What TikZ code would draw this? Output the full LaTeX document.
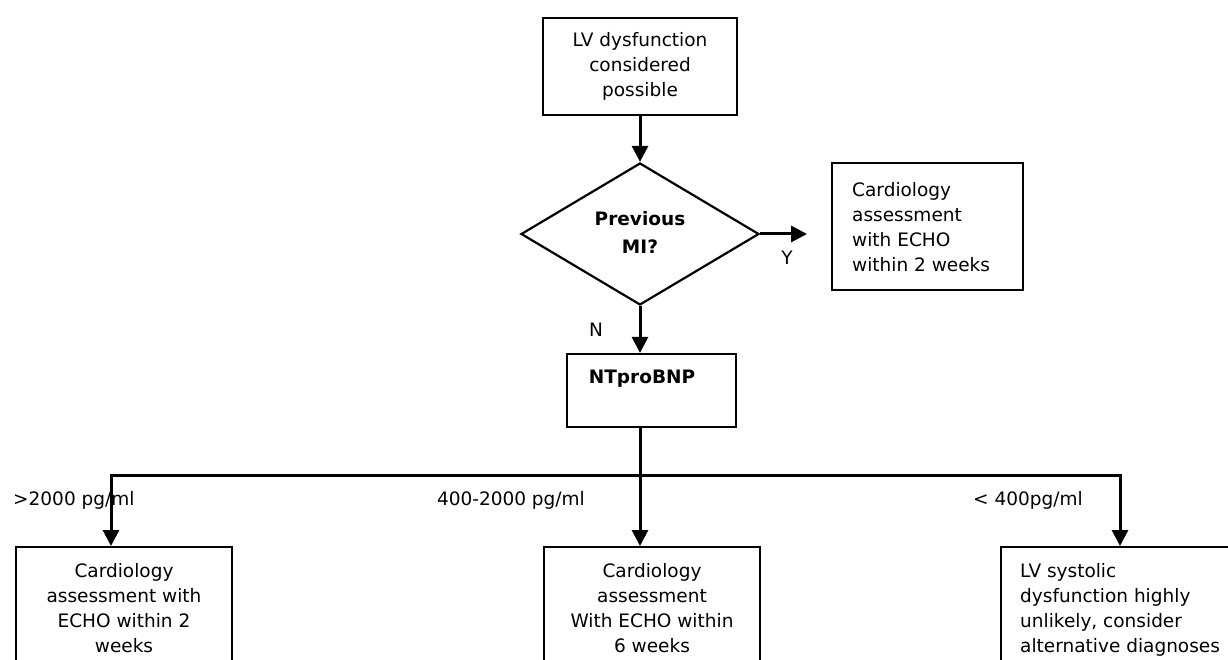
\documentclass[tikz,border=0pt]{standalone}
\usepackage{fontspec}
\setmainfont{DejaVu Sans}
\usetikzlibrary{arrows.meta,shapes.geometric}
\begin{document}
\begin{tikzpicture}[x=1pt,y=-1pt,
  box/.style={draw, line width=2.2pt, inner sep=0pt},
  txt/.style={font=\fontsize{18.5}{25}\selectfont, inner sep=0pt},
  conn/.style={line width=3pt},
  arr/.style={conn, -{Triangle[length=16pt,width=16pt]}}]
\useasboundingbox (0,0) rectangle (1228,660);
\clip (0,0) rectangle (1228,660);
% top box
\node[box, minimum width=194pt, minimum height=97pt] (top) at (640,66.5) {};
\node[txt, align=center] (topt) at (640,66) {LV dysfunction\\considered\\possible};
% diamond
\node[box, diamond, minimum width=238pt, minimum height=142pt] (dia) at (640,234) {};
\node[txt, font=\fontsize{18.5}{28}\selectfont\bfseries, align=center] (diat) at (640,232) {Previous\\MI?};
% right box
\node[box, minimum width=191pt, minimum height=127pt] (rbox) at (927.5,226.5) {};
\node[txt, align=left, anchor=west] (rboxt) at (852,227.5) {Cardiology\\assessment\\with ECHO\\within 2 weeks};
% NTproBNP box
\node[box, minimum width=169pt, minimum height=73pt] (nt) at (651.5,390.5) {};
\node[txt, font=\fontsize{18.5}{25}\selectfont\bfseries] (ntt) at (642,379) {NTproBNP};
% bottom boxes
\node[box, minimum width=216pt, minimum height=140pt, anchor=north] (lb) at (124,546) {};
\node[txt, align=center, anchor=north] (lbt) at (124,563) {Cardiology\\assessment with\\ECHO within 2\\weeks};
\node[box, minimum width=216pt, minimum height=140pt, anchor=north] (mb) at (652,546) {};
\node[txt, align=center, anchor=north] (mbt) at (652,563) {Cardiology\\assessment\\With ECHO within\\6 weeks};
\node[box, minimum width=250pt, minimum height=140pt, anchor=north west] (rb) at (1000,546) {};
\node[txt, align=left, anchor=north west] (rbt) at (1020,563) {LV systolic\\dysfunction highly\\unlikely, consider\\alternative diagnoses};
% junctions
\coordinate (jm) at (640,475);
\coordinate (jl) at (111,475);
\coordinate (jr) at (1120,475);
\coordinate (yend) at (807,234);
% connectors
\draw[arr] (top.south) -- (dia.north);
\draw[arr] (dia.east) -- (yend);
\draw[arr] (dia.south) -- (dia.south |- nt.north);
\draw[conn] (nt.south -| jm) -- (jm);
\draw[conn, line cap=rect] (jl) -- (jr);
\draw[arr] (jl) -- (jl |- lb.north);
\draw[arr] (jm) -- (jm |- mb.north);
\draw[arr] (jr) -- (jr |- rb.north);
% labels
\node[txt] (ylab) at (787,258) {Y};
\node[txt] (nlab) at (596,330) {N};
\node[txt, anchor=west] (l1) at (13,500) {>2000 pg/ml};
\node[txt] (l2) at (511,500) {400-2000 pg/ml};
\node[txt] (l3) at (1028,500) {< 400pg/ml};
\end{tikzpicture}
\end{document}
